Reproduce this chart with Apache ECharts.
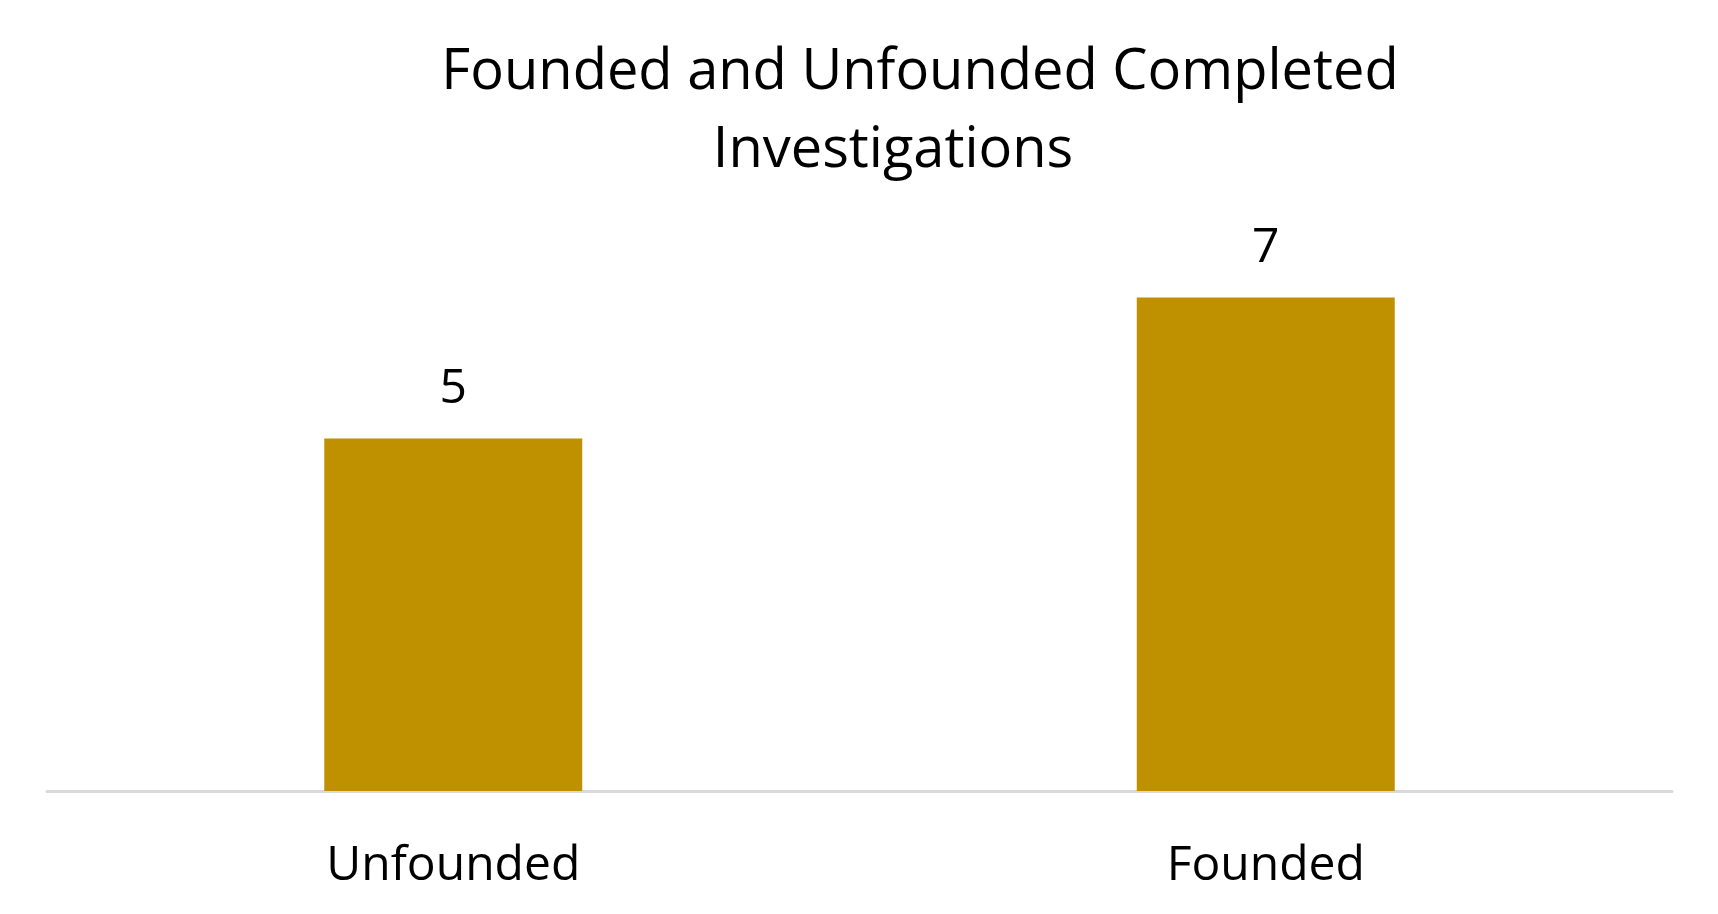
<!doctype html>
<html>
<head>
<meta charset="utf-8">
<title>Founded and Unfounded Completed Investigations</title>
<script src="https://cdn.jsdelivr.net/npm/echarts@6/dist/echarts.min.js"></script>
<style>
html,body{margin:0;padding:0;background:#fff;}
#main{width:1718px;height:914px;}
</style>
</head>
<body>
<div id="main"></div>
<script>
// data
var categories = ['Unfounded', 'Founded'];
var counts = [5, 7];
var titleLines = ['Founded and Unfounded Completed', 'Investigations'];

var chart = echarts.init(document.getElementById('main'));
var font = '"Open Sans", "Noto Sans", sans-serif';

chart.setOption({
  animation: false,
  title: [
    {text: titleLines[0], left: 920, top: 45, textAlign: 'center', padding: 0,
     textStyle: {fontFamily: font, fontSize: 56, fontWeight: 'normal', color: '#000'}},
    {text: titleLines[1], left: 893, top: 123, textAlign: 'center', padding: 0,
     textStyle: {fontFamily: font, fontSize: 56, fontWeight: 'normal', color: '#000'}}
  ],
  grid: {left: 47, right: 46, top: 227, bottom: 123, containLabel: false},
  xAxis: {
    type: 'category',
    data: categories,
    axisTick: {show: false},
    axisLine: {lineStyle: {color: '#D9D9D9', width: 3}},
    axisLabel: {fontFamily: font, fontSize: 48, color: '#000', margin: 51}
  },
  yAxis: {
    type: 'value',
    min: 0,
    max: 8,
    show: false,
    splitLine: {show: false}
  },
  series: [{
    type: 'bar',
    data: counts,
    barWidth: '31.75%',
    itemStyle: {color: '#BF9000'},
    label: {show: true, position: 'top', distance: 25,
            fontFamily: font, fontSize: 48, color: '#000'}
  }]
});
</script>
</body>
</html>
